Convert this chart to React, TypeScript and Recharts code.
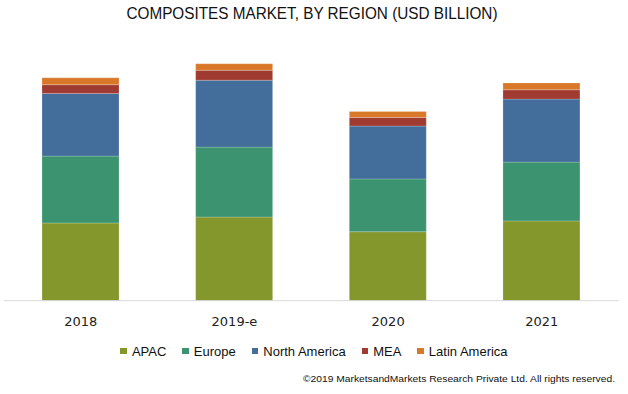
import { BarChart, Bar, XAxis, YAxis } from 'recharts';

const years = ['2018', '2019-e', '2020', '2021'];
const apac = [25.9, 27.9, 23.0, 26.6];
const europe = [22.3, 23.3, 17.6, 19.6];
const northAmerica = [20.9, 22.3, 17.6, 21.0];
const mea = [2.9, 3.3, 2.9, 3.1];
const latinAmerica = [2.3, 2.2, 2.0, 2.3];

const series = [
  { key: 'apac', name: 'APAC', color: '#84972D' },
  { key: 'europe', name: 'Europe', color: '#3B946F' },
  { key: 'northAmerica', name: 'North America', color: '#436E9B' },
  { key: 'mea', name: 'MEA', color: '#A03B31' },
  { key: 'latinAmerica', name: 'Latin America', color: '#DA782A' },
];

const data = years.map((year, i) => ({
  year,
  apac: apac[i],
  europe: europe[i],
  northAmerica: northAmerica[i],
  mea: mea[i],
  latinAmerica: latinAmerica[i],
}));

export default function App() {
  return (
    <div style={{ position: 'absolute', left: 0, top: 0, width: 628, height: 394, background: '#fff' }}>
      <BarChart
        width={628}
        height={394}
        data={data}
        margin={{ top: 60.7, right: 9.4, bottom: 63.3, left: 4 }}
        barSize={77}
      >
        <XAxis
          dataKey="year"
          height={30}
          axisLine={{ stroke: '#d9d9d9', strokeWidth: 1 }}
          tickLine={false}
          tickMargin={10}
          tick={{ fontSize: 13, fill: '#222', fontFamily: 'DejaVu Sans' }}
        />
        <YAxis hide domain={[0, 80]} />
        {series.map((s) => (
          <Bar
            key={s.key}
            dataKey={s.key}
            name={s.name}
            stackId="a"
            fill={s.color}
            stroke="#ffffff"
            strokeOpacity={0.35}
            strokeWidth={0.6}
            isAnimationActive={false}
          />
        ))}
      </BarChart>

      {/* title, legend and footer drawn over the chart */}
      <svg width={628} height={394} style={{ position: 'absolute', left: 0, top: 0, pointerEvents: 'none' }}>
        <text
          x={312}
          y={19}
          textAnchor="middle"
          fontFamily="Liberation Sans, Arial, sans-serif"
          fontSize={16.5}
          fill="#111"
          textLength={371}
          lengthAdjust="spacingAndGlyphs"
        >
          COMPOSITES MARKET, BY REGION (USD BILLION)
        </text>
        <text
          x={615}
          y={381.5}
          textAnchor="end"
          fontFamily="Liberation Sans, Arial, sans-serif"
          fontSize={9.5}
          fill="#111"
          textLength={312}
          lengthAdjust="spacingAndGlyphs"
        >
          ©2019 MarketsandMarkets  Research Private Ltd. All rights reserved.
        </text>
      </svg>

      <div
        style={{
          position: 'absolute',
          left: 0,
          top: 342,
          width: 628,
          height: 18,
          display: 'flex',
          justifyContent: 'center',
          alignItems: 'center',
          gap: 16,
          fontFamily: 'Liberation Sans, Arial, sans-serif',
          fontSize: 13,
          color: '#111',
          paddingLeft: 0,
          boxSizing: 'border-box',
        }}
      >
        {series.map((s) => (
          <div key={s.key} style={{ display: 'flex', alignItems: 'center', gap: 5 }}>
            <div style={{ width: 6.5, height: 6.5, background: s.color }} />
            <span>{s.name}</span>
          </div>
        ))}
      </div>
    </div>
  );
}
